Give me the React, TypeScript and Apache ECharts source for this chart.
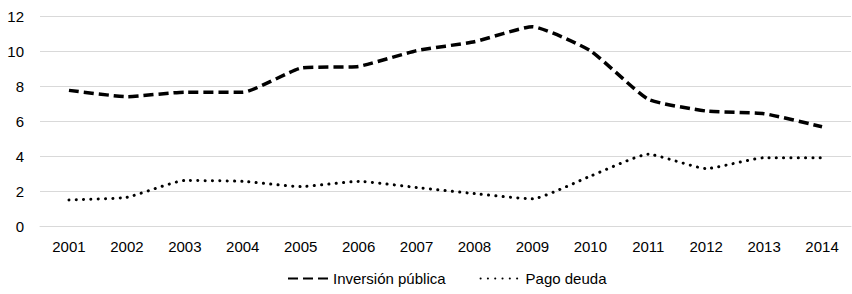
import React, { useEffect, useRef } from "react";
import * as echarts from "echarts";

const years = ["2001","2002","2003","2004","2005","2006","2007","2008","2009","2010","2011","2012","2013","2014"];
const inversionPublica = [7.75, 7.39, 7.65, 7.64, 9.02, 9.12, 10.02, 10.53, 11.39, 10.02, 7.24, 6.57, 6.42, 5.67];
const pagoDeuda = [1.49, 1.64, 2.6, 2.55, 2.25, 2.55, 2.2, 1.85, 1.55, 2.85, 4.1, 3.28, 3.9, 3.9];
const yTicks = { min: 0, max: 12, interval: 2 };

const FONT = "'Liberation Sans', Arial, sans-serif";

export default function App() {
  const ref = useRef<HTMLDivElement>(null);
  useEffect(() => {
    if (!ref.current) return;
    const chart = echarts.init(ref.current, undefined, { renderer: "svg" });
    chart.setOption({
      animation: false,
      backgroundColor: "#fff",
      grid: { left: 40, right: 1, top: 16, bottom: 68, containLabel: false },
      legend: {
        bottom: 3,
        left: 282,
        itemWidth: 40,
        itemHeight: 10,
        itemGap: 34,
        textStyle: { fontFamily: FONT, fontSize: 15, color: "#000" },
        itemStyle: { opacity: 0 },
        data: ["Inversión pública", "Pago deuda"],
      },
      xAxis: {
        type: "category",
        data: years,
        boundaryGap: true,
        axisLine: { lineStyle: { color: "#d9d9d9", width: 1 } },
        axisTick: { show: false },
        axisLabel: { fontFamily: FONT, fontSize: 15, color: "#000", margin: 13, interval: 0 },
      },
      yAxis: {
        type: "value",
        min: yTicks.min,
        max: yTicks.max,
        interval: yTicks.interval,
        axisLine: { show: false },
        axisTick: { show: false },
        splitLine: { lineStyle: { color: "#d9d9d9", width: 1 } },
        axisLabel: { fontFamily: FONT, fontSize: 15, color: "#000", margin: 16 },
      },
      series: [
        {
          name: "Inversión pública",
          type: "line",
          data: inversionPublica,
          smooth: 0.15,
          symbol: "none",
          lineStyle: { color: "#000", width: 3.5, type: [10, 5], cap: "butt" },
          itemStyle: { color: "#000" },
        },
        {
          name: "Pago deuda",
          type: "line",
          data: pagoDeuda,
          smooth: 0.15,
          symbol: "none",
          lineStyle: { color: "#000", width: 3, type: [0.1, 7.2], cap: "round" },
          itemStyle: { color: "#000" },
        },
      ],
    });
    return () => chart.dispose();
  }, []);
  return <div ref={ref} style={{ width: 852, height: 294, position: "absolute", left: 0, top: 0 }} />;
}
